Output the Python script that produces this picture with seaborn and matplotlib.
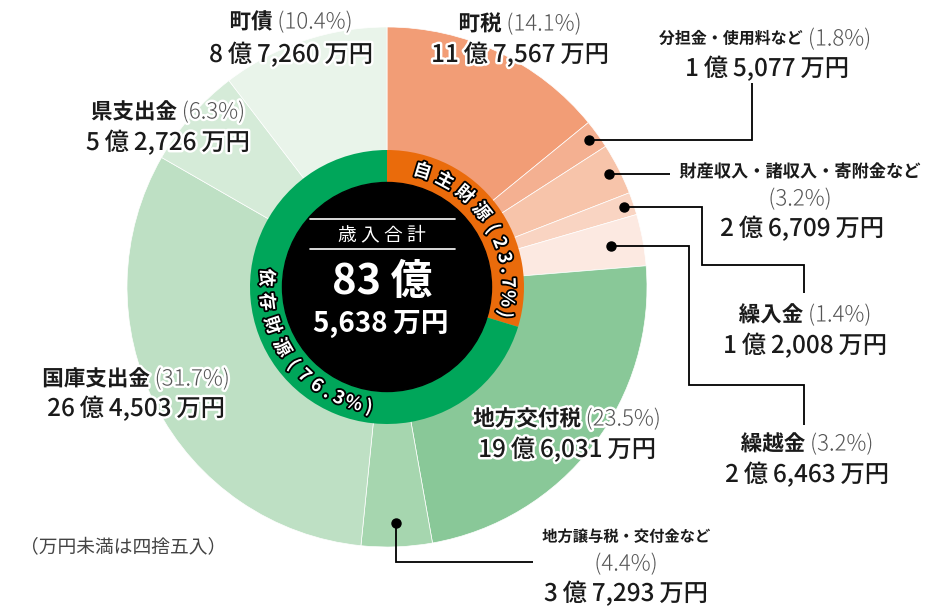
import numpy as np
import matplotlib
matplotlib.use('Agg')
import matplotlib.pyplot as plt
import matplotlib.patheffects as pe
import seaborn as sns

# 歳入の内訳（外側の円）
names = ['町税', '分担金・使用料など', '財産収入・諸収入・寄附金など', '繰入金', '繰越金',
         '地方交付税', '地方譲与税・交付金など', '国庫支出金', '県支出金', '町債']
shares = [14.1, 1.8, 3.2, 1.4, 3.2, 23.5, 4.4, 31.7, 6.3, 10.4]
amounts = ['11億7,567万円', '1億5,077万円', '2億6,709万円', '1億2,008万円', '2億6,463万円',
           '19億6,031万円', '3億7,293万円', '26億4,503万円', '5億2,726万円', '8億7,260万円']
outer_colors = ['#F29D76', '#F4B091', '#F7C4AA', '#F9D4C2', '#FCE9E1',
                '#89C898', '#A6D6AF', '#BEE0C4', '#D5EBD8', '#E9F4EA']

# 自主財源 / 依存財源（内側のリング）
group_names = ['自主財源', '依存財源']
group_shares = [23.7, 76.3]
group_arc = [29.7, 70.3]   # 参照図で描かれている弧の長さ
group_colors = ['#EA6B0B', '#00A65A']

total_oku = '83億'
total_man = '5,638万円'
note = '（万円未満は四捨五入）'

sns.set_theme(style='white')
plt.rcParams['font.family'] = ['Noto Sans CJK JP', 'DejaVu Sans']

W, H = 928, 608
CX, CY = 387, 287          # 円の中心（ピクセル, 上から）
R_OUT, R_RING, R_IN = 260, 137, 104.5

fig = plt.figure(figsize=(W / 100, H / 100), dpi=100)
ax = fig.add_axes([0, 0, 1, 1])

center = (CX, H - CY)
ax.pie(shares, radius=R_OUT, center=center, startangle=90, counterclock=False,
       colors=outer_colors, wedgeprops=dict(edgecolor='white', linewidth=0.5))
ax.pie(group_arc, radius=R_RING, center=center, startangle=90, counterclock=False,
       colors=group_colors, wedgeprops=dict(width=R_RING - R_IN, edgecolor='none'))
ax.add_patch(plt.Circle(center, R_IN, color='black', zorder=3))
ax.set_xlim(0, W)
ax.set_ylim(0, H)
ax.set_aspect('equal')
ax.axis('off')

halo = [pe.withStroke(linewidth=3.5, foreground='white')]
outline = [pe.withStroke(linewidth=2.6, foreground='black')]
renderer = fig.canvas.get_renderer()


def rich_line(x, y, parts):
    # 1行の中で書式の違う文字列を並べて中央揃え
    texts = []
    for s, kw in parts:
        t = ax.text(0, H - y, s, ha='left', va='center_baseline', zorder=6,
                    path_effects=halo, **kw)
        texts.append(t)
    widths = [t.get_window_extent(renderer).width for t in texts]
    x0 = x - sum(widths) / 2
    for t, w in zip(texts, widths):
        t.set_x(x0)
        x0 += w


NAME = dict(fontsize=15.5, fontweight='bold', color='#1a1a1a')
PCT = dict(fontsize=16, fontweight='light', color='#555555')
AMT = dict(fontsize=17.5, fontweight='medium', color='#1a1a1a')


def pct(v):
    return f' ({v}%)'


def fmt_amount(s):
    return s.replace('億', '\u2009億\u2009').replace('万円', '\u2009万円')


def small(size):
    return dict(fontsize=size, fontweight='bold', color='#1a1a1a')


# ラベル配置（名前行, 金額行）
label_pos = {
    '町税': (520, [22, 52]),
    '町債': (291, [20, 52]),
    '県支出金': (168, [110, 140]),
    '国庫支出金': (136, [377, 406]),
    '地方交付税': (567, [417, 447]),
    '繰入金': (805, [313, 343]),
    '繰越金': (807, [442, 472]),
}
for i, n in enumerate(names):
    if n in label_pos:
        x, (y1, y2) = label_pos[n]
        rich_line(x, y1, [(n, NAME), (pct(shares[i]), PCT)])
        rich_line(x, y2, [(fmt_amount(amounts[i]), AMT)])

i = names.index('分担金・使用料など')
rich_line(765, 37, [(names[i], small(11.5)), (pct(shares[i]), PCT)])
rich_line(767, 66, [(fmt_amount(amounts[i]), AMT)])
i = names.index('財産収入・諸収入・寄附金など')
rich_line(800, 170, [(names[i], small(12.4))])
rich_line(800, 197, [(f'({shares[i]}%)', PCT)])
rich_line(802, 226, [(fmt_amount(amounts[i]), AMT)])
i = names.index('地方譲与税・交付金など')
rich_line(626, 535, [(names[i], small(11))])
rich_line(626, 562, [(f'({shares[i]}%)', PCT)])
rich_line(626, 591, [(fmt_amount(amounts[i]), AMT)])

ax.text(20, H - 545, note, fontsize=13.5, color='#444444', va='center_baseline', zorder=6)

# 引き出し線：くさびの中央角から点を打ち、折れ線で文字へ
cum = np.cumsum([0] + shares[:-1])
mid_deg = (cum + np.array(shares) / 2) / 100 * 360
leaders = {
    '分担金・使用料など': (250, [('h', 752), ('v', 83)]),
    '財産収入・諸収入・寄附金など': (249, [('h', 670)]),
    '繰入金': (250, [('h', 702), ('v', 265), ('h', 804), ('v', 293)]),
    '繰越金': (228, [('h', 689), ('v', 385), ('h', 804), ('v', 425)]),
    '地方譲与税・交付金など': (236, [('v', 562), ('h', 533)]),
}
for n, (r, route) in leaders.items():
    th = np.deg2rad(mid_deg[names.index(n)])
    px, py = CX + r * np.sin(th), CY - r * np.cos(th)
    xs, ys = [px], [py]
    for d, v in route:
        if d == 'h':
            xs.append(v); ys.append(ys[-1])
        else:
            xs.append(xs[-1]); ys.append(v)
    ax.plot(xs, [H - v for v in ys], color='black', lw=1.3, zorder=5,
            solid_capstyle='butt', solid_joinstyle='miter')
    ax.plot(px, H - py, 'o', color='black', markersize=6.5, zorder=5)


# リング上の曲がった文字
def char_width(c):
    if c in '.・':
        return 4.5
    if ord(c) < 0x3000:
        return 7.5
    return 11.5


def arc_text(s, start, direction, r, rot_fn):
    th = start
    prev = None
    for c in s:
        w = char_width(c)
        if prev is not None:
            th += direction * (prev + w) / 2
        prev = w
        t = np.deg2rad(th)
        x, y = CX + r * np.sin(t), CY - r * np.cos(t)
        ax.text(x, H - y, c, rotation=rot_fn(th), rotation_mode='anchor',
                ha='center', va='center', fontsize=13, fontweight='bold',
                color='white', path_effects=outline, zorder=6)


arc_text(f'{group_names[0]}({group_shares[0]}%)', 17, 1, 121, lambda a: -a)
arc_text(f'{group_names[1]}({group_shares[1]}%)', 274.5, -1, 121, lambda a: 180 - a)

# 中央の合計
ax.text(382, H - 235, '歳 入 合 計', ha='center', va='center', fontsize=13.5,
        color='white', zorder=6)
for yy in (219, 249):
    ax.plot([310, 455], [H - yy, H - yy], color='white', lw=1.2, zorder=6)
ax.text(382, H - 282, total_oku.replace('億', ' 億'), ha='center', va='center',
        fontsize=30, fontweight='bold', color='white', zorder=6)
ax.text(381, H - 324, total_man.replace('万円', '\u2009万円'), ha='center', va='center',
        fontsize=20, fontweight='bold', color='white', zorder=6)

fig.savefig('out.png', dpi=100, facecolor='white')
